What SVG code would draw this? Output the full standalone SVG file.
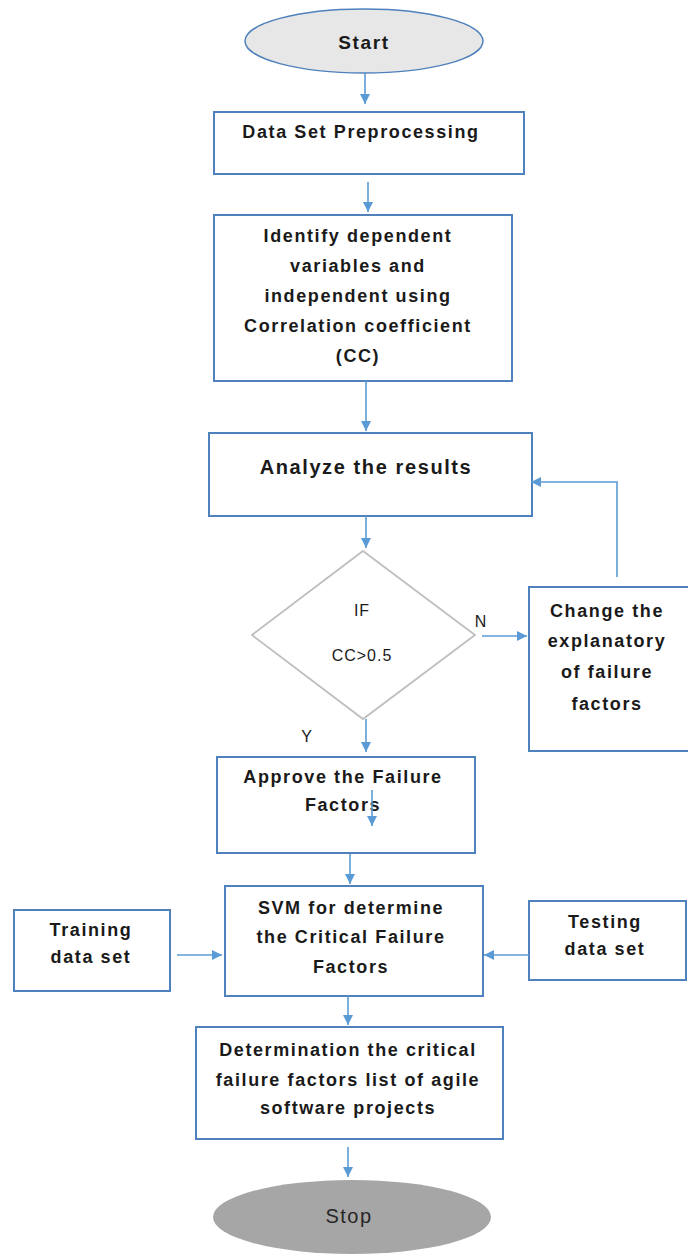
<svg xmlns="http://www.w3.org/2000/svg" width="688" height="1254" viewBox="0 0 688 1254">
<style>
.box{fill:#fff;stroke:#4f81bd;stroke-width:2}
.t{font-family:"Liberation Sans",Arial,sans-serif;font-weight:bold;font-size:18px;letter-spacing:1.6px;fill:#1a1a1a;text-anchor:middle;dominant-baseline:central}
.c{stroke:#5b9bd5;stroke-width:1.6;fill:none}
.lbl{font-family:"Liberation Sans",Arial,sans-serif;font-size:16px;letter-spacing:1px;fill:#1a1a1a;text-anchor:middle;dominant-baseline:central}
</style>
<defs>
<marker id="ah" viewBox="0 0 10 10" refX="10" refY="5" markerWidth="10" markerHeight="10" markerUnits="userSpaceOnUse" orient="auto">
<path d="M0,0 L10,5 L0,10 z" fill="#5b9bd5"/>
</marker>
</defs>
<rect width="688" height="1254" fill="#fff"/>
<g id="start">
<ellipse cx="364" cy="41" rx="119" ry="32" fill="#e7e7e7" stroke="#4f81bd" stroke-width="1.5"/>
<text class="t" x="364" y="42" style="font-size:19px">Start</text>
</g>
<g id="preprocess">
<rect class="box" x="214" y="112" width="310" height="62"/>
<text class="t" x="361" y="132">Data Set Preprocessing</text>
</g>
<g id="identify">
<rect class="box" x="214" y="215" width="298" height="166"/>
<text class="t" x="358" y="236">Identify dependent</text>
<text class="t" x="358" y="266">variables and</text>
<text class="t" x="358" y="296">independent using</text>
<text class="t" x="358" y="326">Correlation coefficient</text>
<text class="t" x="358" y="356">(CC)</text>
</g>
<g id="analyze">
<rect class="box" x="209" y="433" width="323" height="83"/>
<text class="t" x="366" y="467" style="font-size:20px">Analyze the results</text>
</g>
<g id="decision">
<polygon points="363,551 475,635 363,719 252,635" fill="#fff" stroke="#bfbfbf" stroke-width="1.8"/>
<text class="lbl" x="362" y="610">IF</text>
<text class="lbl" x="362" y="655">CC&gt;0.5</text>
</g>
<g id="change">
<rect class="box" x="529" y="587" width="165" height="164"/>
<text class="t" x="607" y="611">Change the</text>
<text class="t" x="607" y="641">explanatory</text>
<text class="t" x="607" y="672">of failure</text>
<text class="t" x="607" y="704">factors</text>
</g>
<g id="approve">
<rect class="box" x="217" y="757" width="258" height="96"/>
<text class="t" x="343" y="777">Approve the Failure</text>
<text class="t" x="343" y="805">Factors</text>
</g>
<g id="svm">
<rect class="box" x="225" y="886" width="258" height="110"/>
<text class="t" x="351" y="908">SVM for determine</text>
<text class="t" x="351" y="937">the Critical Failure</text>
<text class="t" x="351" y="967">Factors</text>
</g>
<g id="training">
<rect class="box" x="14" y="910" width="156" height="81"/>
<text class="t" x="91" y="930">Training</text>
<text class="t" x="91" y="957">data set</text>
</g>
<g id="testing">
<rect class="box" x="529" y="901" width="157" height="79"/>
<text class="t" x="605" y="922">Testing</text>
<text class="t" x="605" y="949">data set</text>
</g>
<g id="determination">
<rect class="box" x="196" y="1027" width="307" height="112"/>
<text class="t" x="348" y="1050">Determination the critical</text>
<text class="t" x="348" y="1080">failure factors list of agile</text>
<text class="t" x="348" y="1108">software projects</text>
</g>
<g id="stop">
<ellipse cx="352" cy="1217" rx="139" ry="37" fill="#a6a6a6"/>
<text class="t" x="349" y="1216" style="font-weight:normal;font-size:20px;letter-spacing:1.5px;fill:#262626">Stop</text>
</g>
<g id="connectors">
<line class="c" x1="365" y1="73" x2="365" y2="104" marker-end="url(#ah)"/>
<line class="c" x1="368" y1="182" x2="368" y2="212" marker-end="url(#ah)"/>
<line class="c" x1="366" y1="381" x2="366" y2="431" marker-end="url(#ah)"/>
<line class="c" x1="366" y1="516" x2="366" y2="548" marker-end="url(#ah)"/>
<line class="c" x1="482" y1="636" x2="527" y2="636" marker-end="url(#ah)"/>
<polyline class="c" points="617,577 617,482 531,482" marker-end="url(#ah)"/>
<line class="c" x1="366" y1="719" x2="366" y2="752" marker-end="url(#ah)"/>
<line class="c" x1="372" y1="790" x2="372" y2="826" marker-end="url(#ah)"/>
<line class="c" x1="350" y1="854" x2="350" y2="884" marker-end="url(#ah)"/>
<line class="c" x1="177" y1="955" x2="222" y2="955" marker-end="url(#ah)"/>
<line class="c" x1="529" y1="955" x2="484" y2="955" marker-end="url(#ah)"/>
<line class="c" x1="348" y1="996" x2="348" y2="1025" marker-end="url(#ah)"/>
<line class="c" x1="348" y1="1147" x2="348" y2="1177" marker-end="url(#ah)"/>
<text class="lbl" x="481" y="621">N</text>
<text class="lbl" x="307" y="736">Y</text>
</g>
</svg>
